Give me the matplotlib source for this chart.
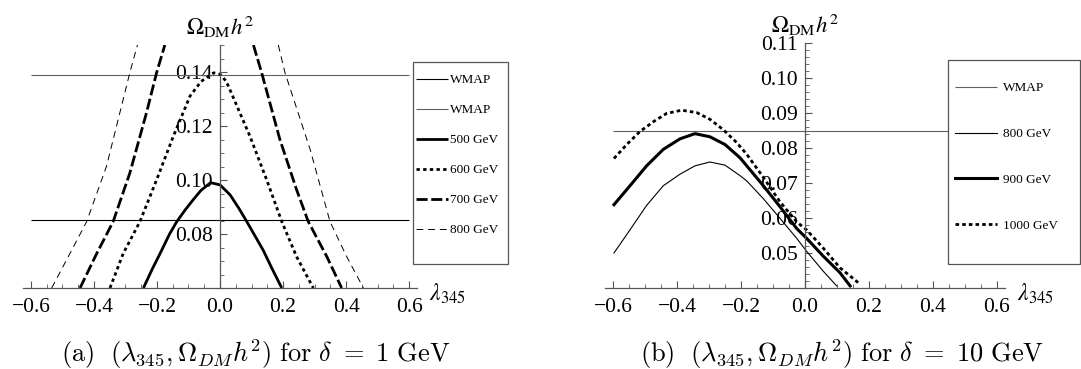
import numpy as np
import matplotlib
matplotlib.use("Agg")
import matplotlib.pyplot as plt
from matplotlib.patches import Rectangle
from matplotlib.ticker import MultipleLocator

# ---------------- data ----------------
x_ticks = [-0.6, -0.4, -0.2, 0.0, 0.2, 0.4, 0.6]
x_ticklabels = ["\u22120.6", "\u22120.4", "\u22120.2", "0.0", "0.2", "0.4", "0.6"]

# panel (a): delta = 1 GeV
a_yticks = [0.08, 0.10, 0.12, 0.14]
a_wmap = [0.085, 0.139]
a_lam_500 = [-0.243, -0.215, -0.19, -0.16, -0.137, -0.11, -0.085, -0.06, -0.03, 0.0, 0.032, 0.06, 0.085, 0.11, 0.137, 0.165, 0.196]
a_om_500 = [0.060, 0.067, 0.0728, 0.080, 0.0846, 0.089, 0.0927, 0.0962, 0.0990, 0.0982, 0.0945, 0.0895, 0.0846, 0.0795, 0.0740, 0.0672, 0.060]
a_lam_600 = [-0.349, -0.307, -0.254, -0.201, -0.148, -0.095, -0.06, -0.02, 0.0, 0.02, 0.042, 0.095, 0.148, 0.196, 0.243, 0.296]
a_om_600 = [0.060, 0.0728, 0.0846, 0.1001, 0.1162, 0.1311, 0.1365, 0.1397, 0.1392, 0.1365, 0.1306, 0.1162, 0.1001, 0.0846, 0.0716, 0.060]
a_lam_700_left = [-0.444, -0.391, -0.339, -0.286, -0.233, -0.201, -0.175]
a_om_700_left = [0.060, 0.0728, 0.0846, 0.1026, 0.1250, 0.1398, 0.150]
a_lam_700_right = [0.106, 0.132, 0.19, 0.243, 0.28, 0.339, 0.386]
a_om_700_right = [0.150, 0.1398, 0.1150, 0.0964, 0.0846, 0.0716, 0.060]
a_lam_800_left = [-0.534, -0.476, -0.423, -0.36, -0.286, -0.262]
a_om_800_left = [0.060, 0.0728, 0.0846, 0.1051, 0.1398, 0.150]
a_lam_800_right = [0.185, 0.206, 0.286, 0.349, 0.402, 0.455]
a_om_800_right = [0.150, 0.1398, 0.1113, 0.0846, 0.0716, 0.060]

# panel (b): delta = 10 GeV
b_yticks = [0.05, 0.06, 0.07, 0.08, 0.09, 0.10, 0.11]
b_wmap = [0.085]
b_lam_800 = [-0.597, -0.547, -0.495, -0.443, -0.391, -0.344, -0.297, -0.25, -0.203, -0.182, -0.130, -0.078, -0.026, 0.005, 0.057, 0.099]
b_om_800 = [0.050, 0.0566, 0.0636, 0.0692, 0.0725, 0.0749, 0.0760, 0.0751, 0.0721, 0.0706, 0.0655, 0.0599, 0.0542, 0.0505, 0.0448, 0.0406]
b_lam_900 = [-0.597, -0.547, -0.495, -0.443, -0.391, -0.344, -0.297, -0.25, -0.203, -0.182, -0.130, -0.078, -0.026, 0.005, 0.057, 0.109, 0.141]
b_om_900 = [0.0638, 0.0692, 0.0749, 0.0796, 0.0826, 0.0841, 0.0832, 0.0810, 0.0772, 0.0749, 0.0692, 0.0632, 0.0570, 0.0542, 0.0491, 0.0444, 0.0406]
b_lam_1000 = [-0.597, -0.557, -0.516, -0.474, -0.432, -0.385, -0.338, -0.297, -0.255, -0.214, -0.182, -0.130, -0.078, -0.026, 0.005, 0.057, 0.109, 0.172]
b_om_1000 = [0.0770, 0.0810, 0.0847, 0.0875, 0.0899, 0.0908, 0.0901, 0.0882, 0.0852, 0.0816, 0.0782, 0.0716, 0.0646, 0.0589, 0.0566, 0.0514, 0.0458, 0.0411]

# ---------------- figure ----------------
plt.rcParams['font.family'] = ['Liberation Serif', 'DejaVu Serif']
plt.rcParams['mathtext.fontset'] = 'stix'

W, H = 1081, 369
fig = plt.figure(figsize=(W / 100, H / 100), dpi=100)


def px_axes(l, t, r, b):
    return fig.add_axes([l / W, 1 - b / H, (r - l) / W, (b - t) / H])


axis_color = '#555555'


def style(ax, ylo, yhi, yticks, yminor):
    ax.set_xlim(-0.625, 0.625)
    ax.set_ylim(ylo, yhi)
    for s in ['top', 'right']:
        ax.spines[s].set_visible(False)
    ax.spines['left'].set_position(('data', 0))
    for s in ['left', 'bottom']:
        ax.spines[s].set_color(axis_color)
        ax.spines[s].set_linewidth(0.9)
    ax.set_xticks(x_ticks)
    ax.set_xticklabels(x_ticklabels)
    ax.xaxis.set_minor_locator(MultipleLocator(0.05))
    ax.set_yticks(yticks)
    ax.set_yticklabels(["%.2f" % v for v in yticks])
    ax.yaxis.set_minor_locator(MultipleLocator(yminor))
    ax.tick_params(which='both', direction='in', color=axis_color, labelsize=15.5)
    ax.tick_params(which='major', length=5, width=0.8)
    ax.tick_params(axis='x', which='major', pad=7)
    ax.tick_params(axis='y', which='major', pad=5)
    ax.tick_params(which='minor', length=3, width=0.6)
    ax.patch.set_alpha(0)
    ax.text(1.03, -0.025, r'$\lambda_{345}$', transform=ax.transAxes,
            fontsize=17, ha='left', va='center')
    ax.annotate(r'$\Omega_{\rm DM}h^2$', xy=(0, 1.075), xycoords=('data', 'axes fraction'),
                fontsize=16.5, ha='center', va='center')


# ----- panel (a) -----
axA = px_axes(23, 45, 417, 288)
style(axA, 0.06, 0.15, a_yticks, 0.005)
wA1 = axA.hlines(a_wmap[0], -0.6, 0.6, colors='black', linewidth=0.8)
wA2 = axA.hlines(a_wmap[1], -0.6, 0.6, colors='#606060', linewidth=0.8)
l500, = axA.plot(a_lam_500, a_om_500, color='black', lw=2.0, solid_capstyle='butt')
l600, = axA.plot(a_lam_600, a_om_600, color='black', lw=2.0, dashes=(1.2, 1.2))
l700, = axA.plot(a_lam_700_left, a_om_700_left, color='black', lw=2.0, dashes=(4.0, 1.3))
axA.plot(a_lam_700_right, a_om_700_right, color='black', lw=2.0, dashes=(4.0, 1.3))
l800, = axA.plot(a_lam_800_left, a_om_800_left, color='black', lw=0.7, dashes=(7, 5))
axA.plot(a_lam_800_right, a_om_800_right, color='black', lw=0.7, dashes=(7, 5))

axA.add_patch(Rectangle((413 / W, 1 - 264 / H), 95 / W, 202 / H, transform=fig.transFigure,
                        facecolor='white', edgecolor='#555555', lw=0.9, clip_on=False, zorder=4))
legA = axA.legend([wA1, wA2, l500, l600, l700, l800],
                  ['WMAP', 'WMAP', '500 GeV', '600 GeV', '700 GeV', '800 GeV'],
                  loc='upper left', bbox_to_anchor=(416 / W, 1 - 74 / H),
                  bbox_transform=fig.transFigure, frameon=False, fontsize=9.5,
                  borderpad=0, borderaxespad=0, labelspacing=1.35,
                  handlelength=2.4, handletextpad=0.2)
legA.set_zorder(5)

# ----- panel (b) -----
axB = px_axes(605, 43, 1005, 288)
style(axB, 0.04, 0.11, b_yticks, 0.002)
wB = axB.hlines(b_wmap[0], -0.6, 0.6, colors='#606060', linewidth=0.8)
b800, = axB.plot(b_lam_800, b_om_800, color='black', lw=0.8)
b900, = axB.plot(b_lam_900, b_om_900, color='black', lw=2.2)
b1000, = axB.plot(b_lam_1000, b_om_1000, color='black', lw=2.0, dashes=(1.3, 1.1))

axB.add_patch(Rectangle((948 / W, 1 - 264 / H), 132 / W, 204 / H, transform=fig.transFigure,
                        facecolor='white', edgecolor='#555555', lw=0.9, clip_on=False, zorder=4))
legB = axB.legend([wB, b800, b900, b1000], ['WMAP', '800 GeV', '900 GeV', '1000 GeV'],
                  loc='upper left', bbox_to_anchor=(955 / W, 1 - 82 / H),
                  bbox_transform=fig.transFigure, frameon=False, fontsize=9.5,
                  borderpad=0, borderaxespad=0, labelspacing=2.55,
                  handlelength=3.2, handletextpad=0.45)
legB.set_zorder(5)

# ----- captions -----
fig.text(256 / W, 1 - 354 / H,
         r'$\mathrm{(a)}\ \ (\lambda_{345}, \Omega_{DM}h^2)\ \mathrm{for}\ \delta\ =\ 1\ \mathrm{GeV}$',
         ha='center', va='center', fontsize=19, math_fontfamily='cm')
fig.text(842 / W, 1 - 354 / H,
         r'$\mathrm{(b)}\ \ (\lambda_{345}, \Omega_{DM}h^2)\ \mathrm{for}\ \delta\ =\ 10\ \mathrm{GeV}$',
         ha='center', va='center', fontsize=19, math_fontfamily='cm')

fig.savefig('out.png', dpi=100)
